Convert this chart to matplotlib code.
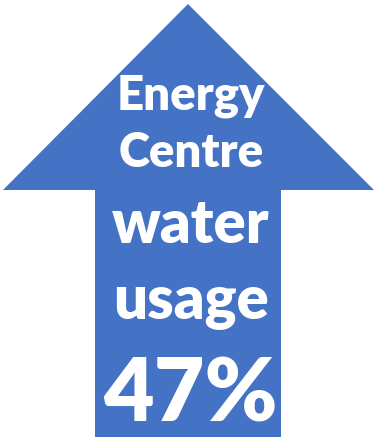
import matplotlib
matplotlib.use("Agg")
from matplotlib import pyplot as plt
from matplotlib.patches import Polygon

# text lines on the arrow and the headline value
labels = ["Energy", "Centre", "water", "usage"]
label_sizes = [34, 34, 43, 43]
label_baselines = [110, 167, 243, 318]
value = 47
value_size = 63
value_baseline = 422

arrow_color = "#4472C4"

fig = plt.figure(figsize=(3.83, 4.45), dpi=100)
ax = fig.add_axes([0, 0, 1, 1])
ax.set_xlim(0, 383)
ax.set_ylim(445, 0)
ax.axis("off")

# up arrow: head triangle + shaft
head_l, head_r, apex_x, apex_y, head_base = 3, 374, 188, 4, 190
shaft_l, shaft_r, shaft_b = 95, 281, 437
pts = [(apex_x, apex_y), (head_r, head_base), (shaft_r, head_base),
       (shaft_r, shaft_b), (shaft_l, shaft_b), (shaft_l, head_base),
       (head_l, head_base)]
ax.add_patch(Polygon(pts, closed=True, facecolor=arrow_color, edgecolor="none"))

cx = 191
for txt, fs, yb in zip(labels, label_sizes, label_baselines):
    ax.text(cx, yb, txt, ha="center", va="baseline", fontsize=fs,
            color="white", fontweight="heavy", family="Lato")

ax.text(cx, value_baseline, f"{value}%", ha="center", va="baseline",
        fontsize=value_size, color="white", fontweight="heavy", family="Lato")

plt.savefig("out.png", dpi=100, facecolor="white")
plt.close()
